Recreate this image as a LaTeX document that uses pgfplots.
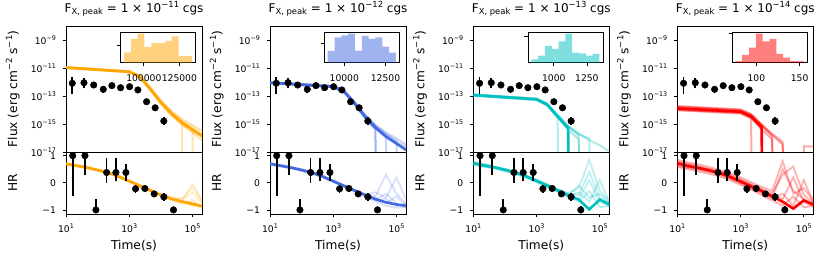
\documentclass[border=0pt]{standalone}
\usepackage{fontspec}
\setmainfont{DejaVu Sans}
\usepackage{pgfplots}
\usepackage{pgfplotstable}
\pgfplotsset{compat=1.18}

\definecolor{cOr}{HTML}{FFA500}
\definecolor{cBl}{HTML}{4169E1}
\definecolor{cCy}{HTML}{00BFBF}
\definecolor{cRd}{HTML}{FF0000}

\newcommand\tk[1]{10\raisebox{3.6pt}{\fontsize{6.4pt}{6.4pt}\selectfont #1}}
\newcommand\lsup[1]{\raisebox{4.9pt}{\fontsize{8.5pt}{8.5pt}\selectfont #1}}
\newcommand\ttl[1]{F\raisebox{-2.4pt}{\fontsize{8.4pt}{8.4pt}\selectfont X, peak} = 1 × 10\raisebox{4.8pt}{\fontsize{8.4pt}{8.4pt}\selectfont −#1} cgs}

% observed light curve
\pgfplotstableread{
t F
15.8 8.1e-13
37 8.9e-13
75 6.1e-13
151 3.0e-13
283 5.5e-13
533 3.9e-13
1026 4.6e-13
1875 2.7e-13
3530 3.9e-14
6600 1.44e-14
12400 1.63e-15
}\obsF
\pgfplotstableread{
t F
15.8 1.38e-13
15.8 2.4e-12
nan nan
37 3.5e-13
37 1.8e-12
nan nan
75 3.5e-13
75 1.05e-12
nan nan
151 1.55e-13
151 5.1e-13
nan nan
283 3.8e-13
283 7.6e-13
nan nan
533 2.9e-13
533 5.2e-13
nan nan
1026 3.5e-13
1026 6.0e-13
nan nan
1875 2.1e-13
1875 3.4e-13
nan nan
3530 3.2e-14
3530 4.7e-14
nan nan
6600 1.2e-14
6600 1.75e-14
nan nan
12400 8.5e-16
12400 3.3e-15
}\obsFerr
\pgfplotstableread{
t H
16.3 1.0
39.8 1.0
88.5 -1.0
193 0.38
379 0.38
785 0.38
1585 -0.22
3120 -0.21
6140 -0.41
12400 -0.52
25100 -1.0
}\obsH
\pgfplotstableread{
t H
16.3 -0.5
16.3 1.0
nan nan
39.8 0.29
39.8 1.0
nan nan
88.5 -1.0
88.5 -0.6
nan nan
193 0.0
193 0.9
nan nan
379 0.05
379 0.92
nan nan
785 0.07
785 0.68
nan nan
1585 -0.38
1585 -0.07
nan nan
3120 -0.33
3120 -0.1
nan nan
6140 -0.5
6140 -0.31
nan nan
12400 -0.68
12400 -0.38
nan nan
25100 -1.1
25100 -0.86
}\obsHerr

% model flux curves (1e-100 = zero flux)
\pgfplotstableread{
t core f1 f2 f3 f4 f5 f6
10 1.07e-11 1.18e-11 0.98e-11 1.12e-11 1.03e-11 1.01e-11 1.15e-11
1000 5.4e-12 6.0e-12 4.9e-12 5.7e-12 5.2e-12 5.0e-12 5.8e-12
2154 2.4e-12 2.8e-12 2.1e-12 2.6e-12 2.3e-12 2.2e-12 2.7e-12
4642 3.2e-13 4.0e-13 2.6e-13 3.6e-13 3.0e-13 2.8e-13 3.8e-13
10000 3.5e-14 4.8e-14 2.7e-14 4.0e-14 3.2e-14 3.0e-14 4.4e-14
21544 5.6e-15 8.5e-15 4.2e-15 6.5e-15 5.0e-15 4.6e-15 7.3e-15
46416 1.26e-15 2.3e-15 8.5e-16 1.5e-15 1.1e-15 1.0e-15 1.8e-15
100000 4.0e-16 8e-16 2.4e-16 1e-100 3.6e-16 3.0e-16 6e-16
215443 1.26e-16 3.2e-16 6e-17 1e-100 1e-100 1.1e-16 1.9e-16
}\PoneF
\pgfplotstableread{
t core f1 f2 f3 f4 f5 f6
10 8.9e-13 9.8e-13 8.1e-13 9.4e-13 8.6e-13 8.4e-13 9.6e-13
1000 4.7e-13 5.3e-13 4.2e-13 5.0e-13 4.5e-13 4.4e-13 5.1e-13
2154 2.2e-13 2.6e-13 1.9e-13 2.4e-13 2.1e-13 2.0e-13 2.5e-13
4642 3.2e-14 4.0e-14 2.6e-14 3.6e-14 3.0e-14 2.8e-14 3.8e-14
10000 3.5e-15 4.8e-15 2.7e-15 4.0e-15 3.2e-15 3.0e-15 4.4e-15
21544 5.6e-16 8.5e-16 4.0e-16 6.8e-16 5.0e-16 4.5e-16 7.5e-16
46416 1.26e-16 2.4e-16 1e-100 1.6e-16 1.1e-16 1e-100 2.0e-16
100000 4e-17 9e-17 1e-100 5e-17 1e-100 1e-100 6e-17
215443 1.26e-17 3e-17 1e-100 2e-17 1e-100 1e-100 1e-100
}\PtwoF
\pgfplotstableread{
t core f1 f2 f3 f4 f5 f6
10 1.17e-13 1.30e-13 1.04e-13 1.24e-13 1.11e-13 1.08e-13 1.27e-13
1000 5.8e-14 6.6e-14 5.1e-14 6.2e-14 5.5e-14 5.3e-14 6.4e-14
2154 2.5e-14 2.9e-14 2.1e-14 2.7e-14 2.3e-14 2.2e-14 2.8e-14
4642 3.5e-15 4.5e-15 2.8e-15 4.0e-15 3.2e-15 3.0e-15 4.2e-15
10000 5.0e-16 7.5e-16 1e-100 6.2e-16 4.2e-16 3.8e-16 6.8e-16
21544 1e-100 2.2e-16 1e-100 1.5e-16 1e-100 8e-17 1.8e-16
46416 1e-100 7e-17 1e-100 1e-100 1e-100 1e-100 9e-17
100000 1e-100 3e-17 1e-100 1e-100 1e-100 1e-100 1e-100
215443 1e-100 1e-17 1e-100 1e-100 1e-100 1e-100 1e-100
}\PthreeF
\pgfplotstableread{
t core f1 f2 f3 f4 f5 f6
10 1.3e-14 1.9e-14 0.95e-14 1.6e-14 1.1e-14 1.05e-14 1.75e-14
1000 7.6e-15 1.1e-14 5.6e-15 9.2e-15 6.6e-15 6.2e-15 1.0e-14
2154 3.5e-15 5.2e-15 2.5e-15 4.3e-15 3.0e-15 2.8e-15 4.7e-15
4642 6.3e-16 9.5e-16 1e-100 7.5e-16 4.5e-16 4.0e-16 8.5e-16
10000 1e-100 2.0e-16 1e-100 1.3e-16 1e-100 8e-17 1.6e-16
21544 1e-100 5e-17 1e-100 1e-100 1e-100 1e-100 3.5e-17
46416 1e-100 1e-100 1e-100 1e-100 1e-100 1e-100 1e-100
100000 1e-100 1e-100 1e-100 1e-100 1e-100 1e-100 2.5e-17
215443 1e-100 1e-100 1e-100 1e-100 1e-100 1e-100 2.5e-17
}\PfourF

% model hardness ratio curves
\pgfplotstableread{
t core h1 h2 h3 h4 h5 h6
10 0.70 0.73 0.67 0.72 0.68 0.70 0.71
21.54 0.63 0.66 0.60 0.65 0.61 0.63 0.64
46.42 0.56 0.59 0.53 0.58 0.54 0.56 0.56
100 0.47 0.50 0.44 0.49 0.45 0.47 0.47
215.4 0.37 0.40 0.34 0.39 0.35 0.37 0.37
464.2 0.23 0.26 0.20 0.25 0.21 0.23 0.23
1000 0.06 0.09 0.03 0.08 0.04 0.06 0.06
2154 -0.11 -0.08 -0.14 -0.09 -0.13 -0.11 -0.11
4642 -0.28 -0.25 -0.31 -0.26 -0.30 -0.28 -0.28
10000 -0.45 -0.42 -0.48 -0.44 -0.47 -0.45 -0.46
21544 -0.59 -0.52 -0.64 -0.56 -0.62 -0.60 -0.58
46416 -0.69 -0.58 -0.78 -0.62 -0.74 -0.68 -0.72
100000 -0.78 -0.15 -0.62 -0.35 -0.85 -0.05 -0.70
215443 -0.87 -0.75 -0.95 -0.82 -0.92 -0.72 -0.90
}\PoneH
\pgfplotstableread{
t core h1 h2 h3 h4 h5 h6
10 0.70 0.73 0.67 0.72 0.68 0.70 0.71
21.54 0.63 0.66 0.60 0.65 0.61 0.63 0.63
46.42 0.56 0.58 0.53 0.58 0.54 0.56 0.55
100 0.47 0.50 0.44 0.49 0.45 0.47 0.47
215.4 0.37 0.39 0.34 0.40 0.35 0.37 0.36
464.2 0.23 0.26 0.20 0.25 0.21 0.23 0.22
1000 0.06 0.09 0.03 0.08 0.04 0.06 0.05
2154 -0.11 -0.08 -0.14 -0.09 -0.13 -0.12 -0.11
4642 -0.28 -0.25 -0.31 -0.27 -0.30 -0.29 -0.28
10000 -0.45 -0.40 -0.50 -0.43 -0.47 -0.46 -0.44
21544 -0.60 -0.50 -0.68 -0.35 -0.62 -0.55 -0.65
46416 -0.72 0.30 -0.85 -0.55 -0.40 -0.75 -0.60
100000 -0.80 -0.40 -0.92 0.20 -0.75 -0.50 -0.85
215443 -0.85 -0.80 -0.90 -0.70 -0.95 -0.88 -0.75
}\PtwoH
\pgfplotstableread{
t core h1 h2 h3 h4 h5 h6
10 0.72 0.78 0.66 0.75 0.69 0.74 0.70
21.54 0.64 0.70 0.58 0.68 0.61 0.66 0.62
46.42 0.57 0.60 0.52 0.60 0.54 0.58 0.56
100 0.48 0.52 0.42 0.50 0.45 0.49 0.46
215.4 0.38 0.42 0.33 0.40 0.35 0.39 0.36
464.2 0.24 0.28 0.18 0.27 0.20 0.25 0.22
1000 0.07 0.12 0.01 0.10 0.04 0.08 0.06
2154 -0.10 -0.05 -0.16 -0.07 -0.13 -0.09 -0.12
4642 -0.28 -0.22 -0.34 -0.25 -0.31 -0.27 -0.29
10000 -0.46 -0.38 -0.52 -0.40 -0.50 -0.44 -0.48
21544 -0.62 -0.20 -0.70 -0.45 -0.35 -0.60 -0.10
46416 -0.98 0.85 -0.30 0.40 -0.70 0.10 -0.55
100000 -0.62 -0.30 -0.90 -0.55 0.10 -0.70 -0.40
215443 -0.82 -0.70 -0.85 -0.75 -0.80 -0.90 -0.78
}\PthreeH
\pgfplotstableread{
t core h1 h2 h3 h4 h5 h6
10 0.72 0.85 0.58 0.80 0.65 0.76 0.62
21.54 0.62 0.75 0.50 0.70 0.55 0.68 0.56
46.42 0.55 0.68 0.42 0.62 0.48 0.58 0.50
100 0.46 0.58 0.33 0.52 0.40 0.50 0.42
215.4 0.36 0.48 0.24 0.42 0.30 0.40 0.33
464.2 0.22 0.35 0.10 0.30 0.15 0.26 0.18
1000 0.05 0.20 -0.08 0.14 -0.02 0.10 0.00
2154 -0.13 0.02 -0.25 -0.05 -0.20 -0.08 -0.18
4642 -0.30 -0.15 -0.45 -0.22 -0.38 -0.26 -0.35
10000 -0.50 -0.30 -0.65 -0.40 -0.58 -0.45 -0.55
21544 -0.70 0.80 -0.85 0.30 -0.40 -0.60 0.50
46416 -0.95 -0.40 -0.50 0.60 -0.85 0.20 -0.30
100000 -0.65 -0.20 -0.90 -0.45 0.10 -0.70 -0.60
215443 -0.82 -0.70 -0.85 -0.75 -0.80 -0.90 -0.78
}\PfourH

\pgfplotsset{
  myaxbase/.style={scale only axis, width=136pt, anchor=south west,
    xmin=10, xmax=2e5,
    tick align=outside, major tick length=3.5pt, minor tick length=0pt,
    tick style={black, line width=0.7pt}, axis line style={line width=0.7pt},
    xtick pos=lower, ytick pos=left,
    tick label style={font=\fontsize{9.2pt}{9.2pt}\selectfont},
    label style={font=\fontsize{12.2pt}{12.2pt}\selectfont},
    yticklabel style={anchor=east, xshift=-3pt},
  },
  myfluxax/.style={height=126pt, ymin=1e-17, ymax=1e-8,
    ytick={1e-17,1e-15,1e-13,1e-11,1e-9},
    yticklabels={\tk{−17},\tk{−15},\tk{−13},\tk{−11},\tk{−9}\hspace{10pt}},
    xtick=\empty,
    ylabel={Flux (erg cm\lsup{−2} s\lsup{−1})},
    ylabel style={at={(axis description cs:-0.36,0.5)}, anchor=base},
    title style={at={(axis description cs:0.5,1)}, anchor=base, yshift=7.7pt, font=\fontsize{12pt}{12pt}\selectfont},
  },
  myhrax/.style={height=62pt, ymin=-1.15, ymax=1.135,
    ytick={-1,0,1}, yticklabels={−1,0,1},
    xtick={10,1000,100000}, xticklabels={\tk{1},\tk{3},\tk{5}},
    xticklabel style={anchor=base, yshift=-15pt},
    ylabel={HR}, xlabel={Time(s)},
    ylabel style={at={(axis description cs:-0.36,0.5)}, anchor=base},
    xlabel style={at={(axis description cs:0.5,0)}, anchor=base, yshift=-36pt},
  },
  myinsetax/.style={scale only axis, width=75pt, height=30.4pt, anchor=south west,
    ymin=0, ymax=90.3, tick align=outside, major tick length=3.5pt,
    tick style={black, line width=0.7pt}, axis line style={line width=0.7pt},
    xtick pos=lower, ytick pos=left, yticklabels={},
    axis background/.style={fill=white},
    tick label style={font=\fontsize{9.2pt}{9.2pt}\selectfont},
    xticklabel style={anchor=base, yshift=-15pt},
  },
  myfan/.style={line width=2pt, opacity=0.3},
  myhfan/.style={line width=1.8pt, opacity=0.2},
  mycore/.style={line width=2.6pt},
  obsmark/.style={only marks, mark=*, mark size=3.3pt, black},
  obserr/.style={black, line width=1.6pt, unbounded coords=jump},
}

\begin{document}
\begin{tikzpicture}[x=1pt,y=1pt]
\useasboundingbox (0,0) rectangle (830,262);

% ===== Panel 1 =====
\begin{axis}[xmode=log, ymode=log, myaxbase, myfluxax, at={(66pt,110pt)}, title={\ttl{11}}]
\pgfplotsinvokeforeach{f1,f2,f3,f4,f5,f6}{\addplot[myfan, cOr] table[x=t,y=#1]{\PoneF};}
\addplot[mycore, cOr] table[x=t,y=core]{\PoneF};
\addplot[obserr] table[x=t,y=F]{\obsFerr};
\addplot[obsmark] table[x=t,y=F]{\obsF};
\end{axis}
\begin{axis}[xmode=log, myaxbase, myhrax, at={(66pt,48pt)}]
\pgfplotsinvokeforeach{h1,h2,h3,h4,h5,h6}{\addplot[myhfan, cOr] table[x=t,y=#1]{\PoneH};}
\addplot[mycore, cOr] table[x=t,y=core]{\PoneH};
\addplot[obserr] table[x=t,y=H]{\obsHerr};
\addplot[obsmark] table[x=t,y=H]{\obsH};
\end{axis}
\begin{axis}[myinsetax, at={(120.6pt,199.3pt)}, xmin=83650, xmax=136400,
  scaled x ticks=false, xtick={100000,125000}, xticklabels={100000,125000}, ytick={53}]
\addplot[ybar interval, fill=cOr, fill opacity=0.5, draw=none] coordinates {
(86050,31) (90845,71) (95640,86) (100435,46) (105230,58) (110025,58)
(114820,65) (119615,78) (124410,20) (129205,20) (134000,20)};
\end{axis}

% ===== Panel 2 =====
\begin{axis}[xmode=log, ymode=log, myaxbase, myfluxax, at={(270pt,110pt)}, title={\ttl{12}}]
\pgfplotsinvokeforeach{f1,f2,f3,f4,f5,f6}{\addplot[myfan, cBl] table[x=t,y=#1]{\PtwoF};}
\addplot[mycore, cBl] table[x=t,y=core]{\PtwoF};
\addplot[obserr] table[x=t,y=F]{\obsFerr};
\addplot[obsmark] table[x=t,y=F]{\obsF};
\end{axis}
\begin{axis}[xmode=log, myaxbase, myhrax, at={(270pt,48pt)}]
\pgfplotsinvokeforeach{h1,h2,h3,h4,h5,h6}{\addplot[myhfan, cBl] table[x=t,y=#1]{\PtwoH};}
\addplot[mycore, cBl] table[x=t,y=core]{\PtwoH};
\addplot[obserr] table[x=t,y=H]{\obsHerr};
\addplot[obsmark] table[x=t,y=H]{\obsH};
\end{axis}
\begin{axis}[myinsetax, at={(324.3pt,199.3pt)}, xmin=8788, xmax=13337,
  scaled x ticks=false, xtick={10000,12500}, xticklabels={10000,12500}, ytick={58}]
\addplot[ybar interval, fill=cBl, fill opacity=0.5, draw=none] coordinates {
(8995,35) (9408,75) (9822,81) (10236,86) (10649,36) (11062,80)
(11476,71) (11890,75) (12303,48) (12716,30) (13130,30)};
\end{axis}

% ===== Panel 3 =====
\begin{axis}[xmode=log, ymode=log, myaxbase, myfluxax, at={(473.3pt,110pt)}, title={\ttl{13}}]
\pgfplotsinvokeforeach{f1,f2,f3,f4,f5,f6}{\addplot[myfan, cCy] table[x=t,y=#1]{\PthreeF};}
\addplot[mycore, cCy] table[x=t,y=core]{\PthreeF};
\addplot[obserr] table[x=t,y=F]{\obsFerr};
\addplot[obsmark] table[x=t,y=F]{\obsF};
\end{axis}
\begin{axis}[xmode=log, myaxbase, myhrax, at={(473.3pt,48pt)}]
\pgfplotsinvokeforeach{h1,h2,h3,h4,h5,h6}{\addplot[myhfan, cCy, opacity=0.25] table[x=t,y=#1]{\PthreeH};}
\addplot[mycore, cCy] table[x=t,y=core]{\PthreeH};
\addplot[obserr] table[x=t,y=H]{\obsHerr};
\addplot[obsmark] table[x=t,y=H]{\obsH};
\end{axis}
\begin{axis}[myinsetax, at={(527.9pt,199.3pt)}, xmin=804, xmax=1371,
  xtick={1000,1250}, xticklabels={1000,1250}, ytick={78}]
\addplot[ybar interval, fill=cCy, fill opacity=0.5, draw=none] coordinates {
(830,10) (881.5,21) (933,50) (984.5,41) (1036,63) (1087.5,86)
(1139,30) (1190.5,28) (1242,21) (1293.5,26) (1345,26)};
\end{axis}

% ===== Panel 4 =====
\begin{axis}[xmode=log, ymode=log, myaxbase, myfluxax, at={(677.3pt,110pt)}, title={\ttl{14}}]
\pgfplotsinvokeforeach{f1,f2,f3,f4,f5,f6}{\addplot[myfan, cRd, opacity=0.35] table[x=t,y=#1]{\PfourF};}
\addplot[mycore, cRd] table[x=t,y=core]{\PfourF};
\addplot[obserr] table[x=t,y=F]{\obsFerr};
\addplot[obsmark] table[x=t,y=F]{\obsF};
\end{axis}
\begin{axis}[xmode=log, myaxbase, myhrax, at={(677.3pt,48pt)}]
\pgfplotsinvokeforeach{h1,h2,h3,h4,h5,h6}{\addplot[myhfan, cRd, opacity=0.3] table[x=t,y=#1]{\PfourH};}
\addplot[mycore, cRd] table[x=t,y=core]{\PfourH};
\addplot[obserr] table[x=t,y=H]{\obsHerr};
\addplot[obsmark] table[x=t,y=H]{\obsH};
\end{axis}
\begin{axis}[myinsetax, at={(732pt,199.3pt)}, xmin=71.9, xmax=158.5,
  xtick={100,150}, xticklabels={100,150}, ytick={86}]
\addplot[ybar interval, fill=cRd, fill opacity=0.5, draw=none] coordinates {
(75.8,5) (83.68,23) (91.56,45) (99.44,86) (107.32,63) (115.2,71)
(123.08,26) (130.96,15) (138.84,5) (146.72,5) (154.6,5)};
\end{axis}
\end{tikzpicture}
\end{document}
